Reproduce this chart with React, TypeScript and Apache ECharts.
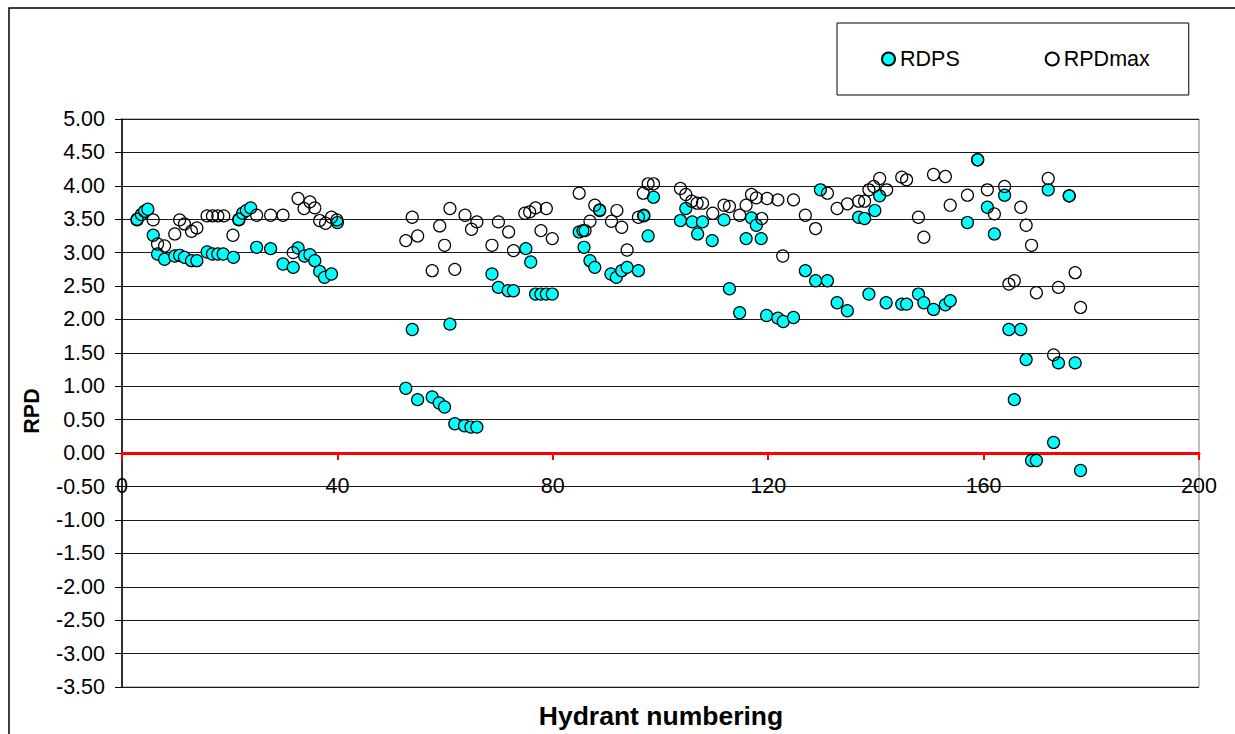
import React, { useEffect, useRef } from "react";
import * as echarts from "echarts";

// Hydrant number, RDPS value
const rdps: [number, number][] = [
  [2.8, 3.49], [3.6, 3.57], [4.2, 3.62], [4.8, 3.65], [5.8, 3.26], [6.6, 2.98], [7.9, 2.9],
  [9.8, 2.95], [10.7, 2.96], [11.6, 2.93], [12.9, 2.88], [13.9, 2.88], [15.8, 3.01], [16.8, 2.98],
  [17.8, 2.98], [18.8, 2.98], [20.7, 2.93], [21.7, 3.49], [22.4, 3.59], [23.1, 3.63], [23.9, 3.67],
  [25.0, 3.08], [27.6, 3.06], [29.9, 2.83], [31.8, 2.78], [32.7, 3.07], [33.9, 2.95], [34.9, 2.97],
  [35.8, 2.88], [36.7, 2.72], [37.6, 2.63], [38.9, 2.68], [40.0, 3.45],
  [52.7, 0.97], [53.9, 1.85], [54.9, 0.8], [57.6, 0.84], [58.9, 0.75], [59.9, 0.69], [60.9, 1.93],
  [61.8, 0.44], [63.6, 0.41], [64.8, 0.39], [65.9, 0.39], [68.7, 2.68], [69.9, 2.48], [71.7, 2.43],
  [72.7, 2.43], [75.0, 3.06], [75.9, 2.86], [76.8, 2.38], [77.8, 2.38], [78.8, 2.38], [79.9, 2.38],
  [84.9, 3.31], [85.6, 3.33], [85.8, 3.08], [86.9, 2.88], [87.8, 2.78], [88.7, 3.63], [90.8, 2.68],
  [91.8, 2.63], [92.8, 2.73], [93.8, 2.78], [95.9, 2.73], [96.9, 3.56], [97.7, 3.25], [98.7, 3.83],
  [103.7, 3.48], [104.7, 3.66], [105.9, 3.46], [106.9, 3.28], [107.8, 3.46], [109.6, 3.18],
  [111.8, 3.49], [112.8, 2.46], [114.7, 2.1], [115.9, 3.21], [116.9, 3.52], [117.8, 3.41],
  [118.7, 3.21], [119.7, 2.06], [121.8, 2.02], [122.8, 1.97], [124.7, 2.03], [126.9, 2.73],
  [128.8, 2.58], [129.7, 3.94], [131.0, 2.58], [132.8, 2.25], [134.7, 2.13], [136.8, 3.53],
  [137.9, 3.51], [138.7, 2.38], [139.8, 3.63], [140.7, 3.85], [141.9, 2.25], [144.8, 2.23],
  [145.7, 2.23], [147.9, 2.38], [148.9, 2.25], [150.7, 2.15], [152.9, 2.22], [153.8, 2.28],
  [157.0, 3.45], [158.9, 4.39], [160.7, 3.68], [162.0, 3.28], [163.9, 3.86], [164.7, 1.85],
  [165.7, 0.8], [166.9, 1.85], [167.9, 1.4], [168.9, -0.11], [169.8, -0.11], [172.0, 3.94],
  [173.0, 0.16], [173.9, 1.35], [175.9, 3.85], [177.0, 1.35], [178.0, -0.26],
];

// Hydrant number, RPDmax value
const rpdmax: [number, number][] = [
  [2.8, 3.5], [5.8, 3.49], [6.6, 3.13], [7.9, 3.1], [9.8, 3.28], [10.7, 3.49], [11.6, 3.43],
  [12.9, 3.32], [13.9, 3.37], [15.8, 3.55], [16.8, 3.55], [17.8, 3.55], [18.9, 3.55], [20.6, 3.26],
  [21.7, 3.5], [25.0, 3.56], [27.6, 3.56], [29.9, 3.56], [31.8, 3.0], [32.7, 3.81], [33.8, 3.66],
  [34.9, 3.76], [35.8, 3.67], [36.7, 3.48], [37.8, 3.44], [38.9, 3.53], [39.9, 3.49],
  [52.7, 3.18], [53.9, 3.53], [54.9, 3.25], [57.6, 2.73], [59.0, 3.4], [59.9, 3.11], [60.9, 3.66],
  [61.8, 2.75], [63.7, 3.56], [64.9, 3.35], [65.9, 3.46], [68.7, 3.11], [69.9, 3.46], [71.8, 3.31],
  [72.7, 3.03], [74.8, 3.59], [75.7, 3.61], [76.8, 3.67], [77.8, 3.33], [78.8, 3.66], [79.9, 3.21],
  [84.9, 3.89], [86.0, 3.33], [86.9, 3.47], [87.8, 3.71], [88.7, 3.64], [90.9, 3.47], [91.9, 3.63],
  [92.8, 3.38], [93.8, 3.04], [95.9, 3.53], [96.9, 3.55], [96.8, 3.89], [97.7, 4.03], [98.7, 4.03],
  [103.7, 3.96], [104.7, 3.87], [105.8, 3.77], [106.8, 3.74], [107.8, 3.74], [109.7, 3.59],
  [111.8, 3.71], [112.8, 3.69], [114.7, 3.56], [115.9, 3.71], [116.9, 3.87], [117.8, 3.82],
  [118.8, 3.51], [119.8, 3.81], [121.8, 3.79], [122.7, 2.95], [124.7, 3.79], [126.9, 3.56],
  [128.8, 3.36], [131.0, 3.89], [132.8, 3.66], [134.7, 3.73], [136.8, 3.77], [137.9, 3.77],
  [138.7, 3.94], [139.6, 3.99], [140.7, 4.11], [142.0, 3.94], [144.8, 4.13], [145.7, 4.09],
  [147.9, 3.53], [148.9, 3.23], [150.7, 4.17], [152.9, 4.14], [153.8, 3.71], [157.0, 3.86],
  [158.9, 4.39], [160.7, 3.94], [162.0, 3.58], [163.9, 3.99], [164.7, 2.53], [165.7, 2.58],
  [166.9, 3.68], [167.9, 3.41], [168.9, 3.11], [169.8, 2.4], [172.0, 4.11], [173.0, 1.47],
  [173.9, 2.48], [175.9, 3.85], [177.0, 2.7], [178.0, 2.18],
];

const seriesNames = ["RDPS", "RPDmax"];
const xTitle = "Hydrant numbering";
const yTitle = "RPD";

const FONT = '"Liberation Sans", Arial, sans-serif';

// plot geometry
const GRID_TOP = 119;
const GRID_BOTTOM = 47;
const CHART_H = 734;
const Y_MIN = -3.5;
const Y_MAX = 5;

export default function App() {
  const ref = useRef<HTMLDivElement>(null);
  useEffect(() => {
    if (!ref.current) return;
    const chart = echarts.init(ref.current, undefined, { renderer: "svg" });
    const plotH = CHART_H - GRID_TOP - GRID_BOTTOM;
    // shift the x axis up from the grid bottom to the value 0
    const zeroOffset = -((0 - Y_MIN) / (Y_MAX - Y_MIN)) * plotH;
    chart.setOption({
      animation: false,
      backgroundColor: "#fff",
      textStyle: { fontFamily: FONT },
      grid: {
        left: 122,
        top: GRID_TOP,
        right: 36,
        bottom: GRID_BOTTOM,
        show: true,
        borderColor: "#808080",
        borderWidth: 1,
        backgroundColor: "transparent",
      },
      legend: {
        data: seriesNames,
        left: 837,
        top: 23,
        orient: "horizontal",
        padding: [25, 39, 25, 44],
        itemGap: 85,
        itemWidth: 13,
        itemHeight: 13,
        borderColor: "#000",
        borderWidth: 1,
        textStyle: { fontSize: 21.5, color: "#000", fontFamily: FONT },
      },
      xAxis: {
        type: "value",
        min: 0,
        max: 200,
        interval: 40,
        offset: zeroOffset,
        axisLine: { onZero: false, lineStyle: { color: "#FF0000", width: 3 } },
        axisTick: { show: true, length: 7, lineStyle: { color: "#FF0000", width: 2 } },
        axisLabel: { color: "#000", fontSize: 21.5, margin: 22, fontFamily: FONT },
        splitLine: { show: false },
      },
      yAxis: {
        type: "value",
        min: Y_MIN,
        max: Y_MAX,
        interval: 0.5,
        axisLine: { show: true, onZero: false, lineStyle: { color: "#000", width: 1.5 } },
        axisTick: { show: true, length: 7, lineStyle: { color: "#000", width: 1 } },
        axisLabel: {
          color: "#000",
          fontSize: 21.5,
          margin: 17,
          fontFamily: FONT,
          formatter: (v: number) => v.toFixed(2),
        },
        splitLine: { show: true, lineStyle: { color: "#1a1a1a", width: 1 } },
      },
      graphic: [
        {
          type: "rect",
          z: -10,
          shape: { x: 9, y: 8, width: 1400, height: 1000 },
          style: { fill: "none", stroke: "#000", lineWidth: 1.5 },
          silent: true,
        },
        {
          type: "text",
          x: 661,
          y: 716,
          style: {
            text: xTitle,
            align: "center",
            verticalAlign: "middle",
            fontSize: 26.5,
            fontWeight: "bold",
            fontFamily: FONT,
            fill: "#000",
          },
        },
        {
          type: "text",
          x: 32,
          y: 411,
          rotation: Math.PI / 2,
          style: {
            text: yTitle,
            align: "center",
            verticalAlign: "middle",
            fontSize: 21.5,
            fontWeight: "bold",
            fontFamily: FONT,
            fill: "#000",
          },
        },
      ],
      series: [
        {
          type: "scatter",
          name: seriesNames[0],
          data: rdps,
          symbol: "circle",
          symbolSize: 12,
          itemStyle: { color: "#00FFFF", borderColor: "#000", borderWidth: 1.2, opacity: 1 },
        },
        {
          type: "scatter",
          name: seriesNames[1],
          data: rpdmax,
          symbol: "circle",
          symbolSize: 12,
          itemStyle: { color: "rgba(255,255,255,0)", borderColor: "#000", borderWidth: 1.2, opacity: 1 },
        },
      ],
    });
    return () => chart.dispose();
  }, []);
  return (
    <div
      ref={ref}
      style={{ position: "absolute", left: 0, top: 0, width: 1235, height: 734 }}
    />
  );
}
